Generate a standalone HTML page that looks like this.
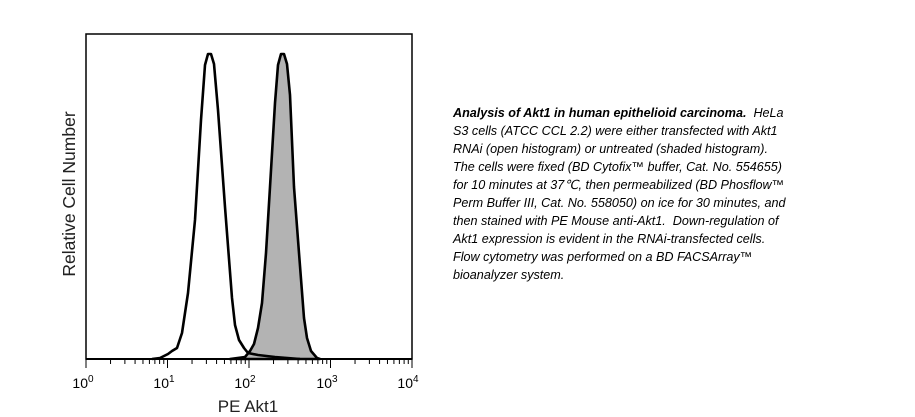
<!DOCTYPE html>
<html><head><meta charset="utf-8"><style>
body{margin:0;background:#fff;width:915px;height:417px;overflow:hidden;position:relative;font-family:"Liberation Sans",sans-serif}
.cap{position:absolute;left:453px;top:104px;width:420px;font-size:12.6px;line-height:18px;font-style:italic;color:#000;white-space:nowrap}
</style></head><body>
<svg width="915" height="417" style="position:absolute;left:0;top:0" font-family="Liberation Sans, sans-serif">
<rect x="86" y="34" width="326" height="325" fill="none" stroke="#000" stroke-width="1.5"/>
<path d="M230,359 L245,357 L250,351 L254,344 L258,328 L262,303 L266,253 L270,187 L275,103 L278,65 L281,54 L284,54 L287,64 L290,95 L294,187 L299,253 L304,318 L307,338 L311,351 L317,358 L320,359 Z" fill="#b3b3b3" stroke="#000" stroke-width="2.6" stroke-linejoin="round"/>
<path d="M152,359 L160,358 L168,354 L172,351 L177,348 L182,333 L188,293 L195,220 L201,120 L205,65 L208,54 L211,54 L214,64 L218,110 L225,207 L232,298 L235,325 L239,340 L244,348 L248,353 L258,355 L275,357 L300,359" fill="none" stroke="#000" stroke-width="2.6" stroke-linejoin="round"/>
<line x1="86" y1="359" x2="412" y2="359" stroke="#000" stroke-width="2"/>
<g id="ticks" stroke="#000" stroke-width="1"></g>
<g font-size="14" text-anchor="middle">
<text x="83" y="388">10<tspan dy="-6" font-size="10">0</tspan></text>
<text x="164" y="388">10<tspan dy="-6" font-size="10">1</tspan></text>
<text x="245" y="388">10<tspan dy="-6" font-size="10">2</tspan></text>
<text x="327" y="388">10<tspan dy="-6" font-size="10">3</tspan></text>
<text x="408" y="388">10<tspan dy="-6" font-size="10">4</tspan></text>
</g>
<text x="248" y="412" font-size="17" text-anchor="middle" fill="#222">PE Akt1</text>
<text transform="translate(75,194) rotate(-90)" font-size="17.5" text-anchor="middle" fill="#222">Relative Cell Number</text>
</svg>
<script>
var g=document.getElementById('ticks'),s='';
for(var d=0;d<4;d++){for(var k=1;k<10;k++){var x=86+81.5*(d+Math.log10(k));var l=k==1?9:5;s+='<line x1="'+x+'" y1="359" x2="'+x+'" y2="'+(359+l)+'"/>';}}
s+='<line x1="412" y1="359" x2="412" y2="368"/>';
g.innerHTML=s;
</script>
<div class="cap"><b>Analysis of Akt1 in human epithelioid carcinoma.</b>&nbsp; HeLa<br>S3 cells (ATCC CCL 2.2) were either transfected with Akt1<br>RNAi (open histogram) or untreated (shaded histogram).<br>The cells were fixed (BD Cytofix™ buffer, Cat. No. 554655)<br>for 10 minutes at 37℃, then permeabilized (BD Phosflow™<br>Perm Buffer III, Cat. No. 558050) on ice for 30 minutes, and<br>then stained with PE Mouse anti-Akt1.&nbsp; Down-regulation of<br>Akt1 expression is evident in the RNAi-transfected cells.<br>Flow cytometry was performed on a BD FACSArray™<br>bioanalyzer system.</div>
</body></html>
